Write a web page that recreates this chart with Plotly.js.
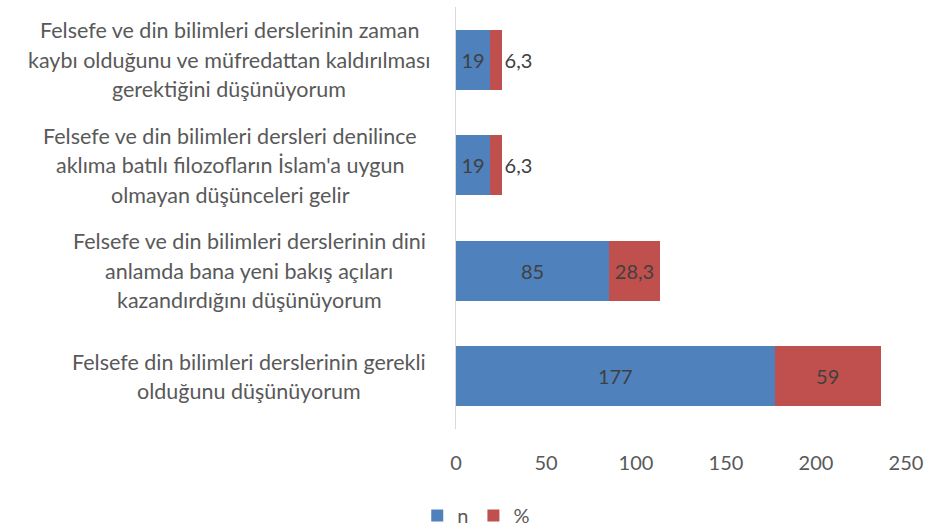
<!DOCTYPE html>
<html>
<head>
<meta charset="utf-8">
<script src="https://cdn.plot.ly/plotly-3.0.1.min.js"></script>
<style>html,body{margin:0;padding:0;background:#fff}#chart{width:928px;height:527px}</style>
</head>
<body>
<div id="chart"></div>
<script>
// Categories listed bottom to top
const categories = [
  "Felsefe din bilimleri derslerinin gerekli<br>olduğunu düşünüyorum",
  "Felsefe ve din bilimleri derslerinin dini<br>anlamda bana yeni bakış açıları<br>kazandırdığını düşünüyorum",
  "Felsefe ve din bilimleri dersleri denilince<br>aklıma batılı filozofların İslam'a uygun<br>olmayan düşünceleri gelir",
  "Felsefe ve din bilimleri derslerinin zaman<br>kaybı olduğunu ve müfredattan kaldırılması<br>gerektiğini düşünüyorum"
];
const nValues = [177, 85, 19, 19];
const pctValues = [59, 28.3, 6.3, 6.3];
const seriesNames = ["n", "%"];
const xTicks = [0, 50, 100, 150, 200, 250];

const FONT = "Lato, 'Open Sans', sans-serif";
const fmt = v => String(v).replace('.', ',');
const ids = categories.map((c, i) => "c" + i);

const traces = [
  {
    type: 'bar', orientation: 'h', name: seriesNames[0],
    y: ids, x: nValues,
    marker: {color: '#4F81BD'},
    text: nValues.map(fmt), textposition: 'inside', insidetextanchor: 'middle',
    constraintext: 'none',
    insidetextfont: {family: FONT, size: 20, color: '#404040'},
    hoverinfo: 'skip'
  },
  {
    type: 'bar', orientation: 'h', name: seriesNames[1],
    y: ids, x: pctValues,
    marker: {color: '#C0504D'},
    text: pctValues.map(fmt),
    textposition: pctValues.map(v => v < 10 ? 'outside' : 'inside'),
    insidetextanchor: 'middle', constraintext: 'none', cliponaxis: false,
    insidetextfont: {family: FONT, size: 20, color: '#404040'},
    outsidetextfont: {family: FONT, size: 20, color: '#404040'},
    hoverinfo: 'skip'
  }
];

// Horizontal centre of each category label block (paper units), bottom to top
const labelCenters = [-0.459, -0.459, -0.502, -0.504];

const annotations = [];
categories.forEach((c, i) => {
  const lines = c.split('<br>');
  const n = lines.length;
  lines.forEach((ln, j) => {
    annotations.push({
      xref: 'paper', yref: 'y', x: labelCenters[i], y: ids[i],
      xanchor: 'center', yanchor: 'middle',
      text: ln, showarrow: false,
      yshift: ((n - 1) / 2 - j) * 29.5,
      font: {family: FONT, size: 21.5, color: '#595959'}
    });
  });
});

const layout = {
  width: 928, height: 527,
  margin: {l: 456, r: 22, t: 7, b: 98, autoexpand: false},
  paper_bgcolor: '#ffffff', plot_bgcolor: '#ffffff',
  barmode: 'stack', bargap: 0.43,
  showlegend: true,
  legend: {
    orientation: 'h', traceorder: 'normal',
    xref: 'paper', x: 0.045, xanchor: 'center',
    yref: 'container', y: 0.022, yanchor: 'middle',
    font: {family: FONT, size: 20, color: '#595959'},
    itemwidth: 30, tracegroupgap: 0
  },
  xaxis: {
    range: [0, 250], tickvals: xTicks, ticktext: xTicks.map(String),
    showgrid: false, zeroline: false, showline: false,
    ticks: '', ticklabelstandoff: 20, automargin: false,
    tickfont: {family: FONT, size: 20, color: '#595959'},
    fixedrange: true
  },
  yaxis: {
    type: 'category', categoryorder: 'array', categoryarray: ids,
    showticklabels: false, ticks: '', automargin: false,
    showline: true, linecolor: '#D9D9D9', linewidth: 1,
    showgrid: false, zeroline: false, fixedrange: true
  },
  annotations: annotations,
  font: {family: FONT, color: '#595959'}
};

Plotly.newPlot('chart', traces, layout, {displayModeBar: false, staticPlot: true});
</script>
</body>
</html>
